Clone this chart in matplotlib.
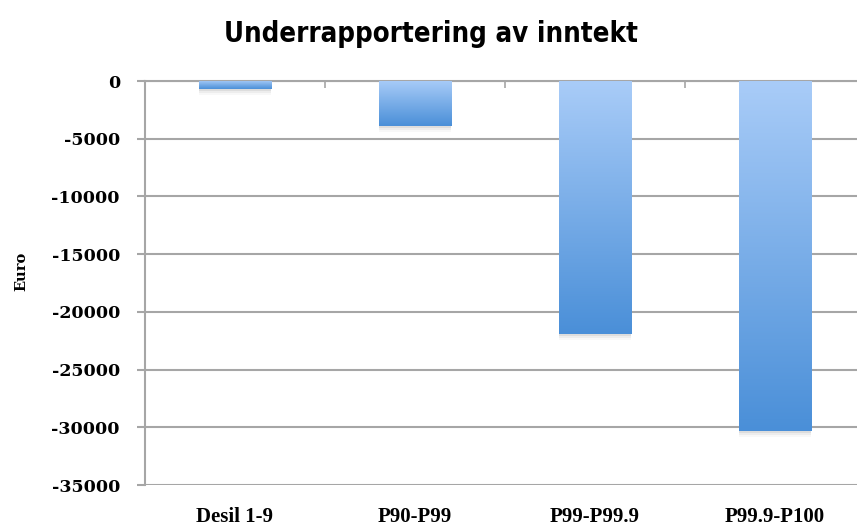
import numpy as np
import matplotlib
matplotlib.use("Agg")
import matplotlib.pyplot as plt
from matplotlib.colors import LinearSegmentedColormap
from matplotlib.patches import Rectangle

categories = ["Desil 1-9", "P90-P99", "P99-P99.9", "P99.9-P100"]
values = [-700, -3900, -21900, -30300]
yticks = [0, -5000, -10000, -15000, -20000, -25000, -30000, -35000]

W, H = 857, 529
fig = plt.figure(figsize=(W / 100, H / 100), dpi=100)
ax = fig.add_axes([145 / W, 1 - 485 / H, 720 / W, 404 / H])

grid_col = "#a6a6a6"
x = np.arange(len(categories))
bw = 0.404
bars = ax.bar(x, values, width=bw, color="none", edgecolor="none", zorder=3)

cmap = LinearSegmentedColormap.from_list("g", ["#a9ccf8", "#4a8fd8"])
grad = np.linspace(0, 1, 256).reshape(-1, 1)
for b in bars:
    x0, y0 = b.get_x(), b.get_y()
    w, h = b.get_width(), b.get_height()
    top, bot = max(y0, y0 + h), min(y0, y0 + h)
    # soft shadow
    for i, a in enumerate([0.10, 0.07, 0.04]):
        sh = Rectangle((x0, bot - 180 * (i + 1)), w, top - bot, facecolor="#606060",
                       alpha=a, edgecolor="none", zorder=2)
        ax.add_patch(sh)
    im = ax.imshow(grad, cmap=cmap, aspect="auto", extent=(x0, x0 + w, bot, top),
                   zorder=3, interpolation="bicubic")
    clip = Rectangle((x0, bot), w, top - bot, transform=ax.transData)
    im.set_clip_path(clip)

ax.set_xlim(-0.5, 3.5)
ax.set_ylim(-35000, 0)
ax.set_yticks(yticks)
ax.set_yticklabels([str(v) for v in yticks],
                   fontdict=dict(family="DejaVu Serif", weight="bold", size=12.5))
ax.yaxis.grid(True, color=grid_col, linewidth=1.5, zorder=1)
ax.set_axisbelow(True)

ax.set_xticks(x)
ax.set_xticklabels(categories, fontdict=dict(family="Liberation Serif", weight="bold",
                                             size=15))
for lab in ax.get_xticklabels():
    lab.set_verticalalignment("baseline")
ax.tick_params(axis="x", which="major", length=0, pad=26.5)
ax.set_xticks(np.arange(0.5, 3.5, 1.0), minor=True)
ax.tick_params(axis="x", which="minor", top=True, bottom=False, direction="in",
               length=5, width=1.2, color=grid_col)
ax.tick_params(axis="y", length=6, width=1.5, color=grid_col, pad=12)

for s in ["right", "bottom"]:
    ax.spines[s].set_visible(False)
ax.spines["top"].set_color(grid_col)
ax.spines["top"].set_linewidth(1.5)
ax.spines["left"].set_color(grid_col)
ax.spines["left"].set_linewidth(1.5)

fig.text(21 / W, 1 - 271 / H, "Euro", rotation=90, ha="center", va="center",
         fontdict=dict(family="DejaVu Serif", weight="bold", size=10.5))

fig.text(431 / W, 1 - 34 / H, "Underrapportering av inntekt", ha="center", va="center",
         fontdict=dict(family="DejaVu Sans", weight="heavy", stretch="condensed", size=19.8))

fig.savefig("out.png", dpi=100)
